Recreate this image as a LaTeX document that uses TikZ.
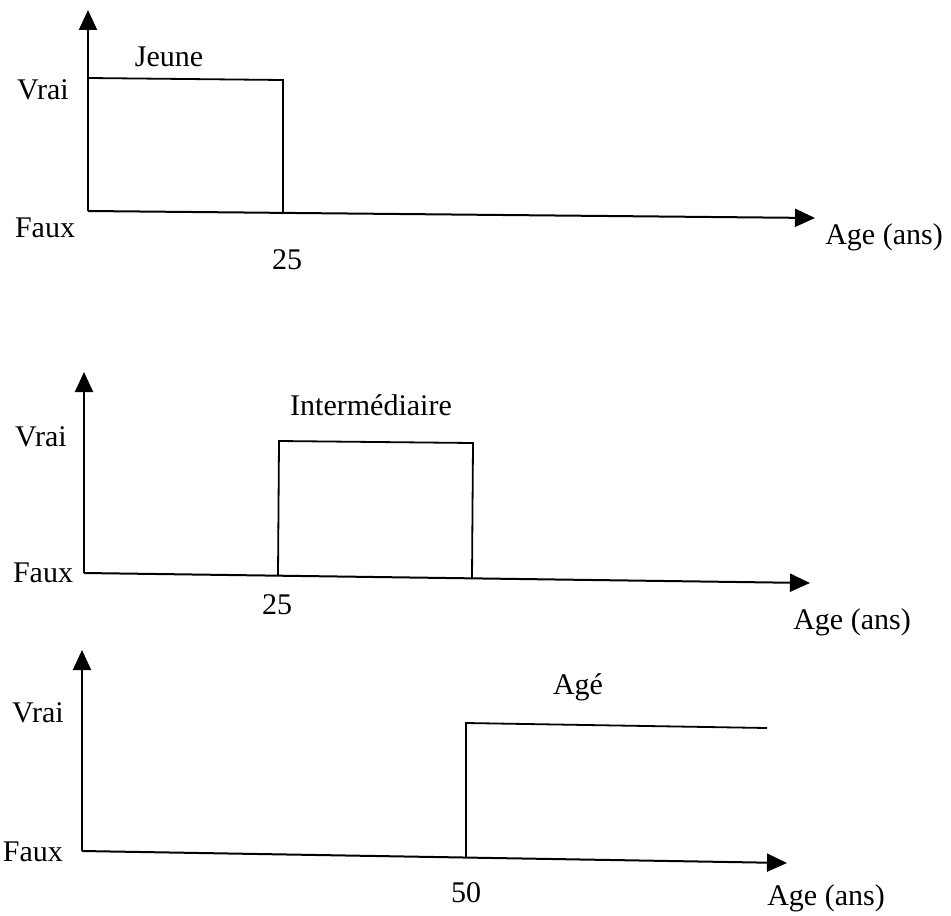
\documentclass[tikz,border=0pt]{standalone}
\usepackage{fontspec}
\setmainfont{Liberation Serif}
\usetikzlibrary{arrows.meta}
\begin{document}
\begin{tikzpicture}[x=0.5pt,y=-0.5pt,
    axis/.style ={line width=1pt, -{Triangle[length=10pt,width=9pt]}},
    crisp/.style ={line width=0.9pt},
    lbl/.style ={inner sep=0pt, font=\fontsize{15}{17}\selectfont}]
   \useasboundingbox (0,0) rectangle (951,915);
   % Jeune
   \coordinate (O1) at (88,211);
   \coordinate (Y1) at (88,10);
   \coordinate (X1) at (815,218);
   \coordinate (A1) at (88,78);
   \coordinate (B1) at (283,80);
   \coordinate (C1) at (283,212);
   \draw[axis] (O1) to (Y1);
   \draw[axis] (O1) to (X1);
   \draw[crisp] (A1) -- (B1) -- (C1);
   \node[lbl] (jeune) at (169,57) {Jeune};
   \node[lbl] (vrai1) at (43,90) {Vrai};
   \node[lbl] (faux1) at (45,228) {Faux};
   \node[lbl] (n25a) at (287,260) {25};
   \node[lbl] (age1) at (884,237) {Age (ans)};
   % Intermediaire
   \coordinate (O2) at (84,573);
   \coordinate (Y2) at (84,372);
   \coordinate (X2) at (810,583);
   \coordinate (A2) at (278,575);
   \coordinate (B2) at (279,441);
   \coordinate (C2) at (473,443);
   \coordinate (D2) at (472,578);
   \draw[axis] (O2) to (Y2);
   \draw[axis] (O2) to (X2);
   \draw[crisp] (A2) -- (B2) -- (C2) -- (D2);
   \node[lbl] (inter) at (371,405) {Intermédiaire};
   \node[lbl] (vrai2) at (41,437) {Vrai};
   \node[lbl] (faux2) at (43,573) {Faux};
   \node[lbl] (n25b) at (277,605) {25};
   \node[lbl] (age2) at (852,622) {Age (ans)};
   % Age
   \coordinate (O3) at (82,851);
   \coordinate (Y3) at (82,650);
   \coordinate (X3) at (787,863);
   \coordinate (A3) at (466,857);
   \coordinate (B3) at (466,723);
   \coordinate (C3) at (767,728);
   \draw[axis] (O3) to (Y3);
   \draw[axis] (O3) to (X3);
   \draw[crisp] (A3) -- (B3) -- (C3);
   \node[lbl] (age) at (578,687) {Agé};
   \node[lbl] (vrai3) at (38,713) {Vrai};
   \node[lbl] (faux3) at (33,852) {Faux};
   \node[lbl] (n50) at (466,893) {50};
   \node[lbl] (age3) at (826,898) {Age (ans)};
 \end{tikzpicture}
\end{document}
